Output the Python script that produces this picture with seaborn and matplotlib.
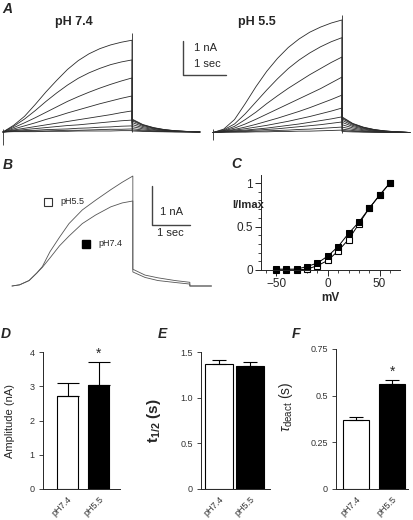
import matplotlib
matplotlib.use("Agg")
import matplotlib.pyplot as plt
import seaborn as sns
import pandas as pd
from matplotlib.ticker import MultipleLocator

# ---------------- data ----------------
# A: current families (nA) during 3 s steps, -50..+60 mV, biggest first
t_step = [0, 0.25, 0.5, 0.75, 1.0, 1.25, 1.5, 1.75, 2.0, 2.25, 2.5, 2.75, 3.0]
a74_traces = [
    [0, 0.20, 0.46, 0.81, 1.18, 1.52, 1.84, 2.10, 2.30, 2.45, 2.56, 2.64, 2.70],
    [0, 0.17, 0.38, 0.63, 0.90, 1.15, 1.38, 1.58, 1.74, 1.87, 1.98, 2.06, 2.12],
    [0, 0.13, 0.27, 0.42, 0.58, 0.74, 0.90, 1.04, 1.17, 1.29, 1.40, 1.50, 1.59],
    [0, 0.09, 0.18, 0.27, 0.37, 0.46, 0.56, 0.65, 0.74, 0.83, 0.91, 0.99, 1.06],
    [0, 0.06, 0.11, 0.16, 0.21, 0.26, 0.31, 0.36, 0.41, 0.46, 0.51, 0.57, 0.62],
    [0, 0.04, 0.07, 0.10, 0.13, 0.16, 0.19, 0.21, 0.24, 0.27, 0.30, 0.33, 0.35],
    [0, 0.03, 0.04, 0.05, 0.07, 0.08, 0.09, 0.11, 0.12, 0.14, 0.15, 0.17, 0.18],
    [0, 0.02, 0.02, 0.03, 0.03, 0.04, 0.05, 0.05, 0.06, 0.07, 0.08, 0.08, 0.09],
    [0, 0.01, 0.01, 0.01, 0.02, 0.02, 0.02, 0.03, 0.03, 0.03, 0.03, 0.04, 0.04],
]
a55_traces = [
    [0, 0.10, 0.38, 0.85, 1.35, 1.80, 2.18, 2.50, 2.75, 2.95, 3.10, 3.22, 3.31],
    [0, 0.08, 0.25, 0.55, 0.90, 1.25, 1.58, 1.88, 2.13, 2.34, 2.52, 2.67, 2.79],
    [0, 0.06, 0.18, 0.38, 0.60, 0.85, 1.08, 1.30, 1.50, 1.70, 1.88, 2.06, 2.22],
    [0, 0.05, 0.13, 0.25, 0.39, 0.54, 0.69, 0.84, 0.99, 1.14, 1.29, 1.46, 1.63],
    [0, 0.04, 0.09, 0.16, 0.24, 0.33, 0.42, 0.52, 0.62, 0.73, 0.85, 0.97, 1.10],
    [0, 0.03, 0.07, 0.11, 0.16, 0.21, 0.27, 0.33, 0.40, 0.47, 0.55, 0.63, 0.72],
    [0, 0.02, 0.05, 0.07, 0.10, 0.13, 0.17, 0.21, 0.25, 0.30, 0.35, 0.40, 0.46],
    [0, 0.02, 0.03, 0.05, 0.07, 0.09, 0.11, 0.14, 0.17, 0.20, 0.23, 0.27, 0.31],
    [0, 0.01, 0.02, 0.03, 0.04, 0.05, 0.06, 0.07, 0.09, 0.10, 0.12, 0.14, 0.16],
    [0, 0.01, 0.01, 0.01, 0.02, 0.02, 0.03, 0.03, 0.04, 0.04, 0.05, 0.06, 0.07],
]
t_tail = [3.0, 3.25, 3.5, 3.75, 4.0, 4.25, 4.58]
tail_shape = [1.0, 0.58, 0.34, 0.19, 0.10, 0.05, 0.0]
a74_tail_amp = [0.38, 0.36, 0.33, 0.28, 0.22, 0.16, 0.10, 0.06, 0.03]
a55_tail_amp = [0.46, 0.44, 0.41, 0.36, 0.30, 0.23, 0.16, 0.10, 0.06, 0.03]
a_end_spike = [2.91, 3.47]
a_onset_spike = [-0.38, -0.22]

# B: superimposed +60 mV traces
tb_step = [0, 0.2, 0.45, 0.65, 0.8, 1.0, 1.25, 1.5, 1.85, 2.2, 2.6, 2.9, 3.18]
tb_tail = [3.18, 3.5, 3.84, 4.29, 4.68]
tb_after = [4.68, 5.25]
b55_step = [0, 0.03, 0.14, 0.33, 0.50, 0.88, 1.25, 1.60, 1.95, 2.20, 2.47, 2.66, 2.82]
b55_tail = [0.43, 0.28, 0.21, 0.14, 0.095]
b74_step = [0, 0.03, 0.14, 0.33, 0.48, 0.72, 1.03, 1.28, 1.60, 1.82, 2.03, 2.13, 2.18]
b74_tail = [0.36, 0.22, 0.14, 0.09, 0.05]

# C: normalised I-V
mv = [-50, -40, -30, -20, -10, 0, 10, 20, 30, 40, 50, 60]
iv_74 = [0.01, 0.01, 0.01, 0.04, 0.08, 0.16, 0.27, 0.42, 0.55, 0.71, 0.86, 1.0]
iv_55 = [0.0, 0.0, 0.0, 0.01, 0.05, 0.11, 0.22, 0.35, 0.53, 0.71, 0.86, 1.0]

# D-F: mean +/- sem
conds = ["pH7.4", "pH5.5"]
amp_mean = [2.72, 3.04]
amp_sem = [0.38, 0.68]
thalf_mean = [1.37, 1.35]
thalf_sem = [0.04, 0.04]
tau_mean = [0.37, 0.5625]
tau_sem = [0.017, 0.022]

# ---------------- figure ----------------
sns.set_style("ticks")
plt.rcParams['font.family'] = ['Liberation Sans', 'DejaVu Sans']
plt.rcParams['mathtext.fontset'] = 'custom'
plt.rcParams['mathtext.rm'] = 'Liberation Sans'
plt.rcParams['mathtext.it'] = 'Liberation Sans:italic'
plt.rcParams['mathtext.bf'] = 'Liberation Sans:bold'

W, H = 414, 520
fig = plt.figure(figsize=(W / 100, H / 100), dpi=100)
trace_col = "#2b2b2b"


def px_axes(x0, y0, x1, y1):
    ax = fig.add_axes([x0 / W, 1 - y1 / H, (x1 - x0) / W, (y1 - y0) / H])
    ax.patch.set_alpha(0)
    return ax


def px_text(x, y, s, **kw):
    fig.text(x / W, 1 - y / H, s, **kw)


def family_frame(traces, tail_amp):
    rows = []
    for k, (tr, amp) in enumerate(zip(traces, tail_amp)):
        rows += [(k, t, v) for t, v in zip(t_step, tr)]
        rows += [(k, t, amp * s) for t, s in zip(t_tail, tail_shape)]
    return pd.DataFrame(rows, columns=["trace", "t", "I"])


# panel A
axl = px_axes(0, 10, 235, 150)
axr = px_axes(205, 10, 414, 150)
for ax, traces, tails, spike, onset in [(axl, a74_traces, a74_tail_amp, a_end_spike[0], a_onset_spike[0]),
                                       (axr, a55_traces, a55_tail_amp, a_end_spike[1], a_onset_spike[1])]:
    df = family_frame(traces, tails)
    sns.lineplot(data=df, x="t", y="I", units="trace", estimator=None, sort=False,
                 color=trace_col, lw=0.6, ax=ax, legend=False)
    ax.vlines(3.0, 0, spike, color=trace_col, lw=0.6)
    ax.vlines(0, onset, 0.1, color=trace_col, lw=0.6)
    ax.set_axis_off()
axl.set_xlim(-3 / 43, 232 / 43)
axl.set_ylim(-18 / 34, 122 / 34)
axr.set_xlim(-8 / 43, 201 / 43)
axr.set_ylim(-17.5 / 34, 122.5 / 34)
# 1 nA / 1 s scale bar
axl.plot([4.186, 4.186, 5.186], [2.676, 1.676, 1.676], color="#444444", lw=1.0)
axl.text(4.45, 2.47, "1 nA", fontsize=8, va="center")
axl.text(4.45, 2.0, "1 sec", fontsize=8, va="center")
px_text(74, 22, "pH 7.4", fontsize=9, fontweight="bold", ha="center", va="center")
px_text(257, 22, "pH 5.5", fontsize=9, fontweight="bold", ha="center", va="center")

# panel B
axb = px_axes(0, 160, 225, 300)
rows = []
for name, st, tl in [("pH5.5", b55_step, b55_tail), ("pH7.4", b74_step, b74_tail)]:
    rows += [(name, t, v) for t, v in zip(tb_step, st)]
    rows += [(name, t, v) for t, v in zip(tb_tail, tl)]
    rows += [(name, t, 0.0) for t in tb_after]
dfb = pd.DataFrame(rows, columns=["cond", "t", "I"])
sns.lineplot(data=dfb, x="t", y="I", units="cond", estimator=None, sort=False,
             color="#555555", lw=0.6, ax=axb, legend=False)
axb.set_xlim(-12 / 38, 213 / 38)
axb.set_ylim(-14 / 39, 126 / 39)
axb.set_axis_off()
axb.plot([3.684, 3.684, 4.684], [2.564, 1.564, 1.564], color="#444444", lw=1.0)
axb.text(3.90, 1.90, "1 nA", fontsize=8, va="center")
axb.text(4.16, 1.36, "1 sec", fontsize=8, va="center", ha="center")
axb.plot([0.213], [0.7], transform=axb.transAxes, marker="s", ms=6, mfc="white", mec="#333333", mew=0.8)
axb.text(0.267, 0.7, "pH5.5", transform=axb.transAxes, fontsize=6.5, va="center")
axb.plot([0.382], [0.4], transform=axb.transAxes, marker="s", ms=6, mfc="black", mec="black")
axb.text(0.436, 0.4, "pH7.4", transform=axb.transAxes, fontsize=6.5, va="center")

# panel C
axc = px_axes(261, 175, 400, 270)
sns.lineplot(x=mv, y=iv_55, ax=axc, color="black", lw=0.7, marker="s", ms=5,
             mfc="white", mec="black", mew=0.8)
sns.lineplot(x=mv, y=iv_74, ax=axc, color="black", lw=0.7, marker="s", ms=5,
             mfc="black", mec="black")
for ln in axc.lines:
    ln.set_clip_on(False)
axc.set_xlim(-64.5, 69.7)
axc.set_ylim(0, 1.092)
axc.set_xticks([-50, 0, 50])
axc.set_yticks([0, 0.5, 1])
axc.set_yticklabels(["0", "0.5", "1"])
axc.xaxis.set_minor_locator(MultipleLocator(10))
axc.yaxis.set_minor_locator(MultipleLocator(0.1))
axc.tick_params(labelsize=8.5, length=4, width=0.7, pad=2)
axc.tick_params(which="minor", length=2.5, width=0.6)
sns.despine(ax=axc)
for sp in axc.spines.values():
    sp.set_linewidth(0.7)
axc.set_xlabel("mV", fontsize=8.5, fontweight="bold", labelpad=1)
px_text(248, 205, "I/Imax", fontsize=8, fontweight="bold", ha="center", va="center")


# panels D-F
def bar_panel(box, mean, sem, ylim, yticks, yticklabels, xlim, width, cap):
    ax = px_axes(*box)
    sns.barplot(x=conds, y=mean, hue=conds, order=conds, hue_order=conds,
                palette=["white", "black"], edgecolor="black", linewidth=0.8,
                width=width, errorbar=None, legend=False, ax=ax)
    ax.errorbar([0, 1], mean, yerr=[[0, 0], sem], fmt="none", ecolor="black",
                elinewidth=0.8, capsize=cap, capthick=0.8)
    ax.set_ylim(*ylim)
    ax.set_xlim(*xlim)
    ax.set_yticks(yticks)
    ax.set_yticklabels(yticklabels)
    ax.tick_params(axis="y", labelsize=6.5, labelcolor="#333333", length=3, width=0.6, pad=3)
    ax.tick_params(axis="x", length=0, labelsize=6.5, labelcolor="#333333", pad=4)
    for lab in ax.get_xticklabels():
        lab.set_rotation(45)
        lab.set_ha("right")
        lab.set_rotation_mode("anchor")
    sns.despine(ax=ax)
    for sp in ax.spines.values():
        sp.set_linewidth(0.7)
    ax.set_xlabel("")
    return ax


axd = bar_panel((43, 352, 120, 489), amp_mean, amp_sem, (0, 4), [0, 1, 2, 3, 4],
                ["0", "1", "2", "3", "4"], (-0.778, 1.667), 0.667, 8)
axd.set_ylabel("Amplitude (nA)", fontsize=8)
axd.yaxis.set_label_coords(-0.36, 0.5)
axd.text(1, 3.82, "*", ha="center", fontsize=10)

axe = bar_panel((201, 352, 270, 489), thalf_mean, thalf_sem, (0, 1.5), [0, 0.5, 1.0, 1.5],
                ["0", "0.5", "1.0", "1.5"], (-0.58, 1.645), 0.92, 5)
axe.set_ylabel(r"$\mathbf{t_{1/2}}$ (s)", fontsize=11, fontweight="bold")
axe.yaxis.set_label_coords(-0.55, 0.5)

axf = bar_panel((336, 349, 408, 489), tau_mean, tau_sem, (0, 0.75), [0, 0.25, 0.5, 0.75],
                ["0", "0.25", "0.5", "0.75"], (-0.556, 1.444), 0.72, 5)
axf.set_ylabel(r"$\tau_{\mathrm{deact}}$ (s)", fontsize=10)
axf.yaxis.set_label_coords(-0.57, 0.59)
axf.text(1, 0.609, "*", ha="center", fontsize=10)

# panel letters
for x, y, s in [(7, 9, "A"), (8, 165, "B"), (236, 164, "C"), (6, 334, "D"), (162, 334, "E"), (296, 334, "F")]:
    px_text(x, y, s, fontsize=10, fontweight="bold", fontstyle="italic", ha="center", va="center")

fig.savefig("out.png", dpi=100)
